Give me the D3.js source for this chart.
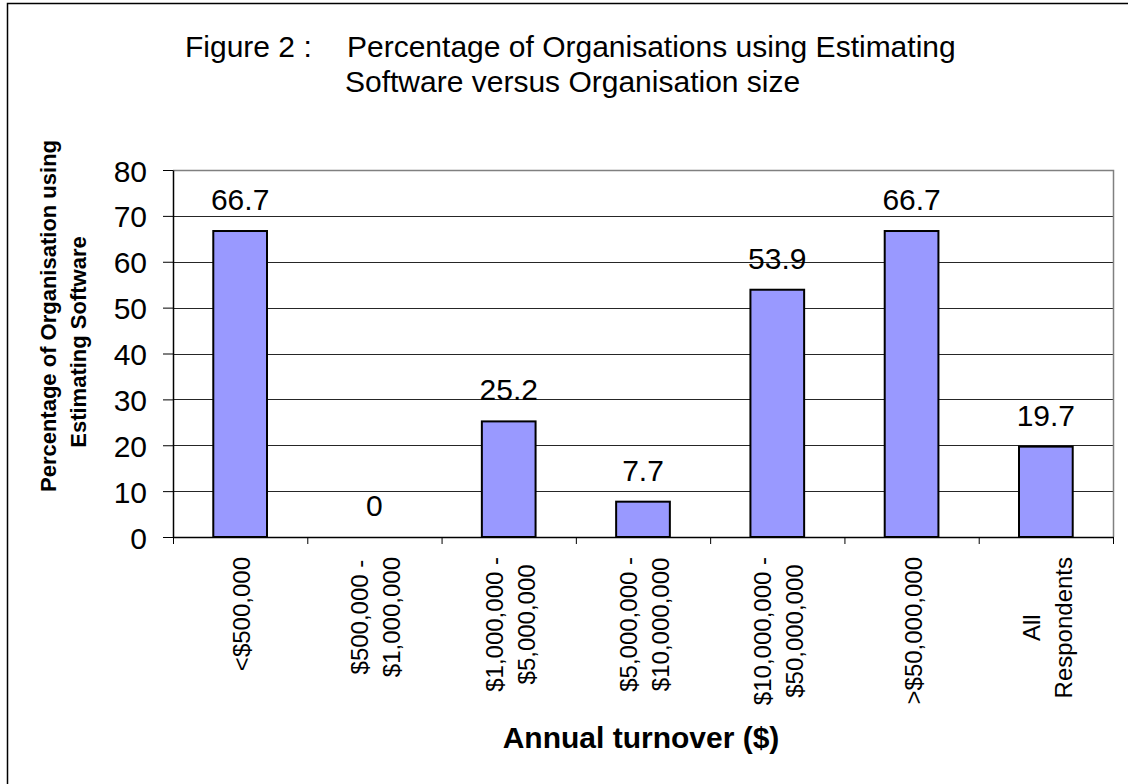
<!DOCTYPE html>
<html>
<head>
<meta charset="utf-8">
<script src="https://cdn.jsdelivr.net/npm/d3@7/dist/d3.min.js"></script>
<style>
  html, body { margin: 0; padding: 0; background: #fff; }
  svg { display: block; font-family: "Liberation Sans", Arial, sans-serif; }
</style>
</head>
<body>
<svg id="chart" width="1128" height="784"></svg>
<script>
const categories = [
  ["<$500,000"],
  ["$500,000 -", "$1,000,000"],
  ["$1,000,000 -", "$5,000,000"],
  ["$5,000,000 -", "$10,000,000"],
  ["$10,000,000 -", "$50,000,000"],
  [">$50,000,000"],
  ["All", "Respondents"]
];
const values = [66.7, 0, 25.2, 7.7, 53.9, 66.7, 19.7];
const yTicks = [0, 10, 20, 30, 40, 50, 60, 70, 80];
const titleLead = "Figure 2 :";
const titleLines = ["Percentage of Organisations using Estimating", "Software versus Organisation size"];
const yTitleLines = ["Percentage of Organisation using", "Estimating Software"];
const xTitle = "Annual turnover ($)";

const svg = d3.select("#chart");
const plot = { left: 173, right: 1113, top: 170, bottom: 537 };

// outer frame
svg.append("rect").attr("x", 7.5).attr("y", 3.5).attr("width", 1140).attr("height", 800)
  .attr("fill", "#fff").attr("stroke", "#000").attr("stroke-width", 1.5);

const idx = categories.map((d, i) => i);
const x = d3.scaleBand().domain(idx).range([plot.left, plot.right]).paddingInner(0.6).paddingOuter(0.3);
const xb = d3.scaleLinear().domain([0, categories.length]).range([plot.left, plot.right]);
const y = d3.scaleLinear().domain([0, 80]).range([plot.bottom, plot.top]);

// gridlines
svg.append("g").selectAll("line").data(yTicks.filter(t => t > 0 && t < 80)).join("line")
  .attr("x1", plot.left).attr("x2", plot.right)
  .attr("y1", d => Math.round(y(d)) + 0.5).attr("y2", d => Math.round(y(d)) + 0.5)
  .attr("stroke", "#262626").attr("stroke-width", 1);

// plot border top/right (gray)
svg.append("path")
  .attr("d", `M${plot.left},${Math.round(y(80)) + 0.5}H${plot.right + 0.5}V${plot.bottom}`)
  .attr("fill", "none").attr("stroke", "#808080").attr("stroke-width", 1.5);

// bars
svg.append("g").selectAll("rect").data(values).join("rect")
  .attr("x", (d, i) => x(i)).attr("width", x.bandwidth())
  .attr("y", d => y(d)).attr("height", d => y(0) - y(d))
  .attr("fill", "#9999FF").attr("stroke", "#000").attr("stroke-width", 2);

// value labels
svg.append("g").selectAll("text").data(values).join("text")
  .attr("x", (d, i) => x(i) + x.bandwidth() / 2).attr("y", d => y(d) - 21)
  .attr("text-anchor", "middle").attr("font-size", 30).attr("fill", "#000")
  .text(d => d3.format("")(d));

// y axis
const yAxis = svg.append("g").attr("transform", `translate(${plot.left},0)`)
  .call(d3.axisLeft(y).tickValues(yTicks).tickSize(10).tickSizeOuter(0).tickPadding(16).tickFormat(d3.format("d")));
yAxis.select(".domain").attr("stroke", "#000").attr("stroke-width", 1.5);
yAxis.selectAll(".tick line").attr("stroke", "#000");
yAxis.selectAll(".tick text").attr("font-size", 30).attr("font-family", "Liberation Sans, Arial, sans-serif")
  .attr("fill", "#000").attr("dy", "0.37em");

// x axis (ticks at category boundaries)
const xAxis = svg.append("g").attr("transform", `translate(0,${plot.bottom})`)
  .call(d3.axisBottom(xb).tickValues(d3.range(categories.length + 1)).tickSize(7).tickSizeOuter(0).tickFormat(""));
xAxis.select(".domain").attr("stroke", "#000").attr("stroke-width", 1.5);
xAxis.selectAll(".tick line").attr("stroke", "#000");

// x category labels (rotated, centered lines, block top under axis)
const labelTop = 557;
categories.forEach((lines, i) => {
  const g = svg.append("g")
    .attr("transform", `translate(${x(i) + x.bandwidth() / 2},${labelTop}) rotate(-90)`);
  const texts = lines.map((t, j) => g.append("text")
    .attr("font-size", 24).attr("fill", "#000").attr("text-anchor", "middle")
    .attr("y", 10 + (j - (lines.length - 1) / 2) * 32)
    .text(t));
  const maxLen = d3.max(texts, t => t.node().getComputedTextLength());
  texts.forEach(t => t.attr("x", -maxLen / 2));
});

// x title
svg.append("text").attr("x", 641).attr("y", 748).attr("text-anchor", "middle")
  .attr("font-size", 30).attr("font-weight", "bold").attr("fill", "#000").text(xTitle);

// y title
const yCenters = [316, 342];
const yBase = [56, 86];
yTitleLines.forEach((t, j) => {
  svg.append("text")
    .attr("transform", `translate(${yBase[j]},${yCenters[j]}) rotate(-90)`)
    .attr("text-anchor", "middle").attr("font-size", 22).attr("font-weight", "bold")
    .attr("fill", "#000").text(t);
});

// chart title
svg.append("text").attr("x", 185).attr("y", 57).attr("font-size", 30).attr("fill", "#000").text(titleLead);
svg.append("text").attr("x", 347).attr("y", 57).attr("font-size", 30).attr("fill", "#000").text(titleLines[0]);
svg.append("text").attr("x", 345).attr("y", 92).attr("font-size", 30).attr("fill", "#000").text(titleLines[1]);
</script>
</body>
</html>
